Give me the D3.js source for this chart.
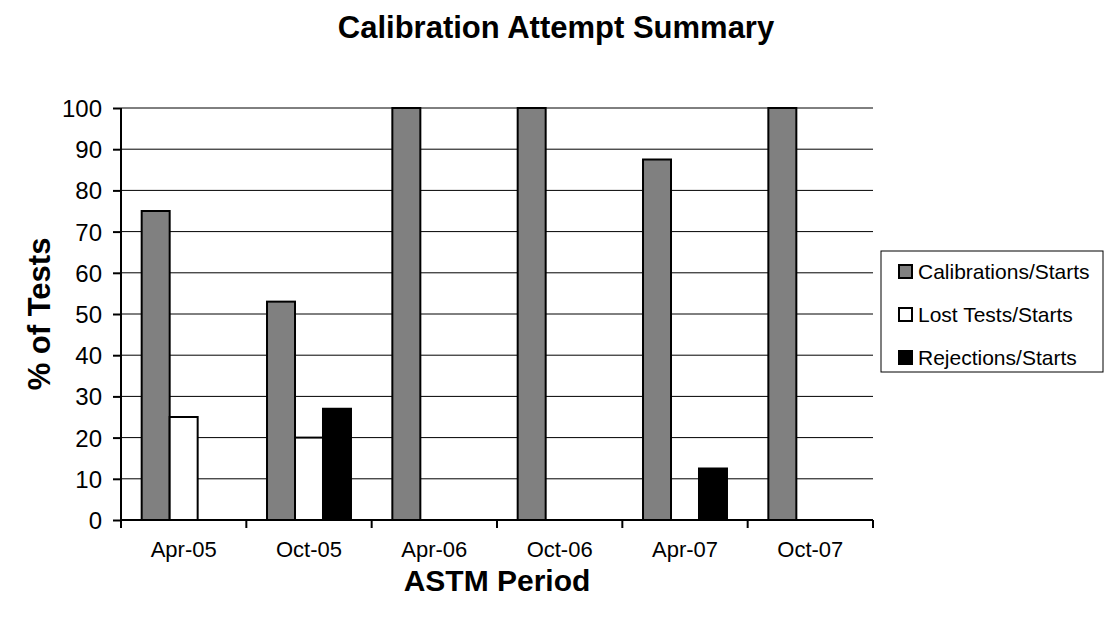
<!DOCTYPE html>
<html>
<head>
<meta charset="utf-8">
<script src="https://cdn.jsdelivr.net/npm/d3@7"></script>
<style>
  body { margin: 0; background: #fff; }
  text { font-family: Arial, "Liberation Sans", sans-serif; }
</style>
</head>
<body>
<div id="chart"></div>
<script>
var periods = ["Apr-05", "Oct-05", "Apr-06", "Oct-06", "Apr-07", "Oct-07"];
var seriesNames = ["Calibrations/Starts", "Lost Tests/Starts", "Rejections/Starts"];
var calibrations = [75, 53, 100, 100, 87.5, 100];
var lostTests = [25, 20, 0, 0, 0, 0];
var rejections = [0, 27, 0, 0, 12.5, 0];
var yTicks = [0, 10, 20, 30, 40, 50, 60, 70, 80, 90, 100];
var colors = ["#808080", "#ffffff", "#000000"];

var W = 1105, H = 618;
var margin = { left: 121, top: 108, right: 232, bottom: 98 };
var width = W - margin.left - margin.right;
var height = H - margin.top - margin.bottom;

var svg = d3.select("#chart").append("svg")
  .attr("width", W).attr("height", H);

var g = svg.append("g")
  .attr("transform", "translate(" + margin.left + "," + margin.top + ")");

var x0 = d3.scaleBand().domain(periods).range([0, width]);
var gap = x0.bandwidth() * 0.165;
var x1 = d3.scaleBand().domain(seriesNames).range([gap, x0.bandwidth() - gap]);
var y = d3.scaleLinear().domain([0, 100]).range([height, 0]);

// gridlines
g.selectAll(".grid").data(yTicks.slice(1)).enter()
  .append("line")
  .attr("x1", 0).attr("x2", width)
  .attr("y1", d => y(d)).attr("y2", d => y(d))
  .attr("stroke", "#000").attr("stroke-width", 1);

// bars
var rows = periods.map((p, i) => ({
  period: p,
  values: [calibrations[i], lostTests[i], rejections[i]]
}));

var groups = g.selectAll(".grp").data(rows).enter()
  .append("g")
  .attr("transform", d => "translate(" + x0(d.period) + ",0)");

groups.selectAll("rect")
  .data(d => d.values.map((v, j) => ({ name: seriesNames[j], value: v, j: j })).filter(d => d.value > 0))
  .enter().append("rect")
  .attr("x", d => x1(d.name))
  .attr("width", x1.bandwidth())
  .attr("y", d => y(d.value))
  .attr("height", d => height - y(d.value))
  .attr("fill", d => colors[d.j])
  .attr("stroke", "#000")
  .attr("stroke-width", 2);

// y axis
var yAxis = g.append("g")
  .call(d3.axisLeft(y).tickValues(yTicks).tickSize(8).tickPadding(11));
yAxis.select(".domain").attr("stroke-width", 2).attr("d", "M0," + height + "V0");
yAxis.selectAll(".tick line").attr("stroke-width", 2);
yAxis.selectAll("text").attr("font-size", "24px").attr("fill", "#000")
  .attr("dy", "0.35em")
  .style("font-family", "Arial, 'Liberation Sans', sans-serif");

// x axis
var xAxis = g.append("g")
  .attr("transform", "translate(0," + height + ")");
xAxis.append("line")
  .attr("x1", 0).attr("x2", width)
  .attr("stroke", "#000").attr("stroke-width", 2);
xAxis.selectAll(".xt").data(periods.concat(["end"])).enter()
  .append("line")
  .attr("x1", (d, i) => i * x0.step()).attr("x2", (d, i) => i * x0.step())
  .attr("y1", 0).attr("y2", 8)
  .attr("stroke", "#000").attr("stroke-width", 2);
xAxis.selectAll(".xl").data(periods).enter()
  .append("text")
  .attr("x", d => x0(d) + x0.bandwidth() / 2)
  .attr("y", 37)
  .attr("text-anchor", "middle")
  .attr("font-size", "22px")
  .text(d => d);

// titles
svg.append("text")
  .attr("x", 556).attr("y", 38)
  .attr("text-anchor", "middle")
  .attr("font-size", "31px").attr("font-weight", "bold")
  .text("Calibration Attempt Summary");

svg.append("text")
  .attr("x", 497).attr("y", 591)
  .attr("text-anchor", "middle")
  .attr("font-size", "30px").attr("font-weight", "bold")
  .text("ASTM Period");

svg.append("text")
  .attr("transform", "translate(50," + (margin.top + height / 2) + ") rotate(-90)")
  .attr("text-anchor", "middle")
  .attr("font-size", "31px").attr("font-weight", "bold")
  .text("% of Tests");

// legend
var legend = svg.append("g").attr("transform", "translate(881,251)");
legend.append("rect")
  .attr("width", 222).attr("height", 121)
  .attr("fill", "#fff").attr("stroke", "#000").attr("stroke-width", 1);
seriesNames.forEach((name, i) => {
  var row = legend.append("g").attr("transform", "translate(18," + (28 + i * 43) + ")");
  row.append("rect")
    .attr("x", 0).attr("y", -14)
    .attr("width", 13).attr("height", 13)
    .attr("fill", colors[i]).attr("stroke", "#000").attr("stroke-width", 2);
  row.append("text")
    .attr("x", 19).attr("y", 0)
    .attr("font-size", "21px")
    .text(name);
});
</script>
</body>
</html>
